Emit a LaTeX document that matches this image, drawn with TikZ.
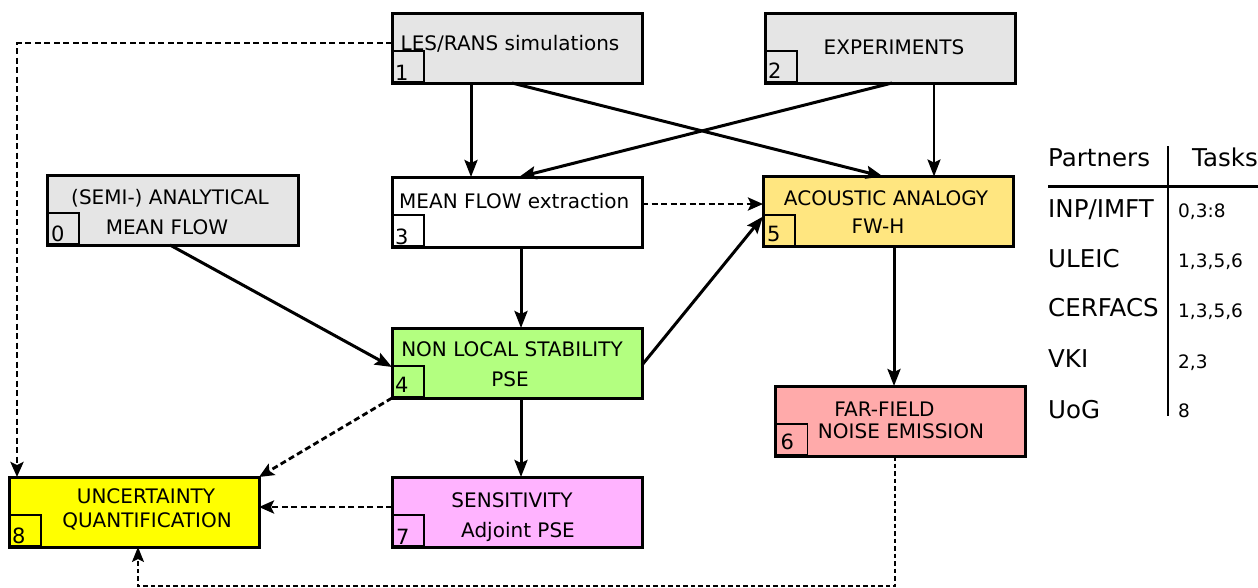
\documentclass[tikz,border=0pt]{standalone}
\usepackage{fontspec}
\setmainfont{DejaVu Sans}
\usetikzlibrary{arrows.meta}
\definecolor{boxgray}{HTML}{E5E5E5}
\definecolor{boxgold}{HTML}{FFE680}
\definecolor{boxgreen}{HTML}{B3FF80}
\definecolor{boxpink}{HTML}{FFAAAA}
\definecolor{boxyellow}{HTML}{FFFF00}
\definecolor{boxviolet}{HTML}{FFB3FF}
\begin{document}
\begin{tikzpicture}[x=1pt,y=-1pt,
  taskbox/.style={draw=black,line width=3pt,minimum width=250pt,minimum height=70pt,inner sep=0pt,outer sep=0pt},
  numsq/.style={draw=black,line width=1.7pt,minimum width=31pt,minimum height=31pt,inner sep=0pt,anchor=south west},
  numtxt/.style={font=\fontsize{21}{25}\selectfont,inner sep=0pt,anchor=base west},
  lbl/.style={font=\fontsize{20}{24}\selectfont,inner sep=0pt,anchor=base},
  lblw/.style={font=\fontsize{20}{24}\selectfont,inner sep=0pt,anchor=base west},
  ptxt/.style={font=\fontsize{24.5}{29}\selectfont,inner sep=0pt,anchor=base west},
  ttxt/.style={font=\fontsize{18.5}{22}\selectfont,inner sep=0pt,anchor=base west},
  arr/.style={line width=3pt,-{Stealth[length=17pt,width=13pt,inset=3pt]}},
  thinarr/.style={line width=2.3pt,-{Stealth[length=17pt,width=13pt,inset=3pt]}},
  darr/.style={line width=2.8pt,dash pattern=on 6pt off 3.5pt,-{Stealth[length=15pt,width=13pt,inset=3pt]}},
  tdarr/.style={line width=1.8pt,dash pattern=on 4.5pt off 3pt,-{Stealth[length=15pt,width=12pt,inset=3pt]}},
  tline/.style={line width=2.5pt}]
\useasboundingbox (0,0) rectangle (1258,587);

% boxes
\node[taskbox,fill=boxgray] (b1) at (517,48) {};
\node[taskbox,fill=boxgray] (b2) at (890,48) {};
\node[taskbox,fill=boxgray,minimum width=251pt] (b0) at (172.5,210) {};
\node[taskbox,fill=white] (b3) at (517,212) {};
\node[taskbox,fill=boxgold] (b5) at (888,211.5) {};
\node[taskbox,fill=boxgreen] (b4) at (517,363) {};
\node[taskbox,fill=boxpink] (b6) at (900.5,421) {};
\node[taskbox,fill=boxyellow] (b8) at (134,512) {};
\node[taskbox,fill=boxviolet] (b7) at (517,512) {};

% number squares
\node[numsq] (s1) at (b1.south west) {};
\node[numsq] (s2) at (b2.south west) {};
\node[numsq] (s0) at (b0.south west) {};
\node[numsq] (s3) at (b3.south west) {};
\node[numsq] (s5) at (b5.south west) {};
\node[numsq] (s4) at (b4.south west) {};
\node[numsq] (s6) at (b6.south west) {};
\node[numsq] (s8) at (b8.south west) {};
\node[numsq] (s7) at (b7.south west) {};
\node[numtxt] (n1) at ([xshift=3pt,yshift=3pt]s1.south west) {1};
\node[numtxt] (n2) at ([xshift=3pt,yshift=5pt]s2.south west) {2};
\node[numtxt] (n0) at ([xshift=4pt,yshift=4pt]s0.south west) {0};
\node[numtxt] (n3) at ([xshift=3pt,yshift=3pt]s3.south west) {3};
\node[numtxt] (n5) at ([xshift=4pt,yshift=5pt]s5.south west) {5};
\node[numtxt] (n4) at ([xshift=3pt,yshift=6pt]s4.south west) {4};
\node[numtxt] (n6) at ([xshift=5pt,yshift=7pt]s6.south west) {6};
\node[numtxt] (n8) at ([xshift=3pt,yshift=4pt]s8.south west) {8};
\node[numtxt] (n7) at ([xshift=4pt,yshift=3pt]s7.south west) {7};

% labels
\node[lblw] (t1) at (400.5,50) {LES/RANS simulations};
\node[lbl] (t2) at (894,54) {EXPERIMENTS};
\node[lbl] (t0a) at (170,204) {(SEMI-) ANALYTICAL};
\node[lbl] (t0b) at (167,234) {MEAN FLOW};
\node[lblw] (t3) at (399,208) {MEAN FLOW extraction};
\node[lbl] (t5a) at (886,205) {ACOUSTIC ANALOGY};
\node[lbl] (t5b) at (878,233) {FW-H};
\node[lbl] (t4a) at (512,356) {NON LOCAL STABILITY};
\node[lbl] (t4b) at (510,386) {PSE};
\node[lbl] (t6a) at (884.5,416) {FAR-FIELD};
\node[lbl] (t6b) at (901,438) {NOISE EMISSION};
\node[lbl] (t8a) at (146,503) {UNCERTAINTY};
\node[lbl] (t8b) at (147,527) {QUANTIFICATION};
\node[lbl] (t7a) at (512,507) {SENSITIVITY};
\node[lbl] (t7b) at (518,537) {Adjoint PSE};

% solid connectors
\draw[arr] ([xshift=-46pt]b1.south) -- ([xshift=-46pt]b3.north);
\draw[arr] ([xshift=-5pt]b1.south) -- ([xshift=-5pt]b5.north);
\draw[arr] ([xshift=2pt]b2.south) -- ([xshift=2pt]b3.north);
\draw[thinarr] ([xshift=44pt]b2.south) -- ([xshift=46pt]b5.north);
\draw[arr] ([xshift=-2.5pt]b0.south) -- ([yshift=-4pt]b4.west);
\draw[arr] ([xshift=4pt]b3.south) -- ([xshift=4pt]b4.north);
\draw[arr] ([yshift=-2pt]b4.east) -- ([yshift=-5pt]b5.west);
\draw[arr] ([xshift=6pt]b5.south) -- ([xshift=-6.5pt]b6.north);
\draw[arr] ([xshift=4pt]b4.south) -- ([xshift=4pt]b7.north);

% dashed connectors
\draw[darr] ([yshift=8pt]b3.east) -- ([yshift=7.5pt]b5.west);
\draw[darr] (b4.south west) -- (b8.north east);
\draw[darr] ([yshift=5pt]b7.west) -- ([yshift=5pt]b8.east);
\draw[darr] ([yshift=5pt]b1.west) -| ([xshift=-117pt]b8.north);
\coordinate (c6) at (895,586);
\draw[tdarr] ([xshift=-5.5pt]b6.south) -- (c6) -| ([xshift=4pt]b8.south);

% partners table
\node[ptxt] (hp) at (1048,166) {Partners};
\node[ptxt] (ht) at (1192,166) {Tasks};
\node[ptxt] (p1) at (1048,217) {INP/IMFT};
\node[ptxt] (p2) at (1048,267) {ULEIC};
\node[ptxt] (p3) at (1048,316) {CERFACS};
\node[ptxt] (p4) at (1048,367) {VKI};
\node[ptxt] (p5) at (1048,418) {UoG};
\node[ttxt] (k1) at (1178,217) {0,3:8};
\node[ttxt] (k2) at (1178,267) {1,3,5,6};
\node[ttxt] (k3) at (1178,317) {1,3,5,6};
\node[ttxt] (k4) at (1178,368) {2,3};
\node[ttxt] (k5) at (1178,417) {8};
\coordinate (vt) at (1168,146);
\coordinate (vb) at (1168,416);
\coordinate (hl) at (1048,186.5);
\coordinate (hr) at (1258,186.5);
\draw[tline] (vt) -- (vb);
\draw[tline] (hl) -- (hr);
\end{tikzpicture}
\end{document}
